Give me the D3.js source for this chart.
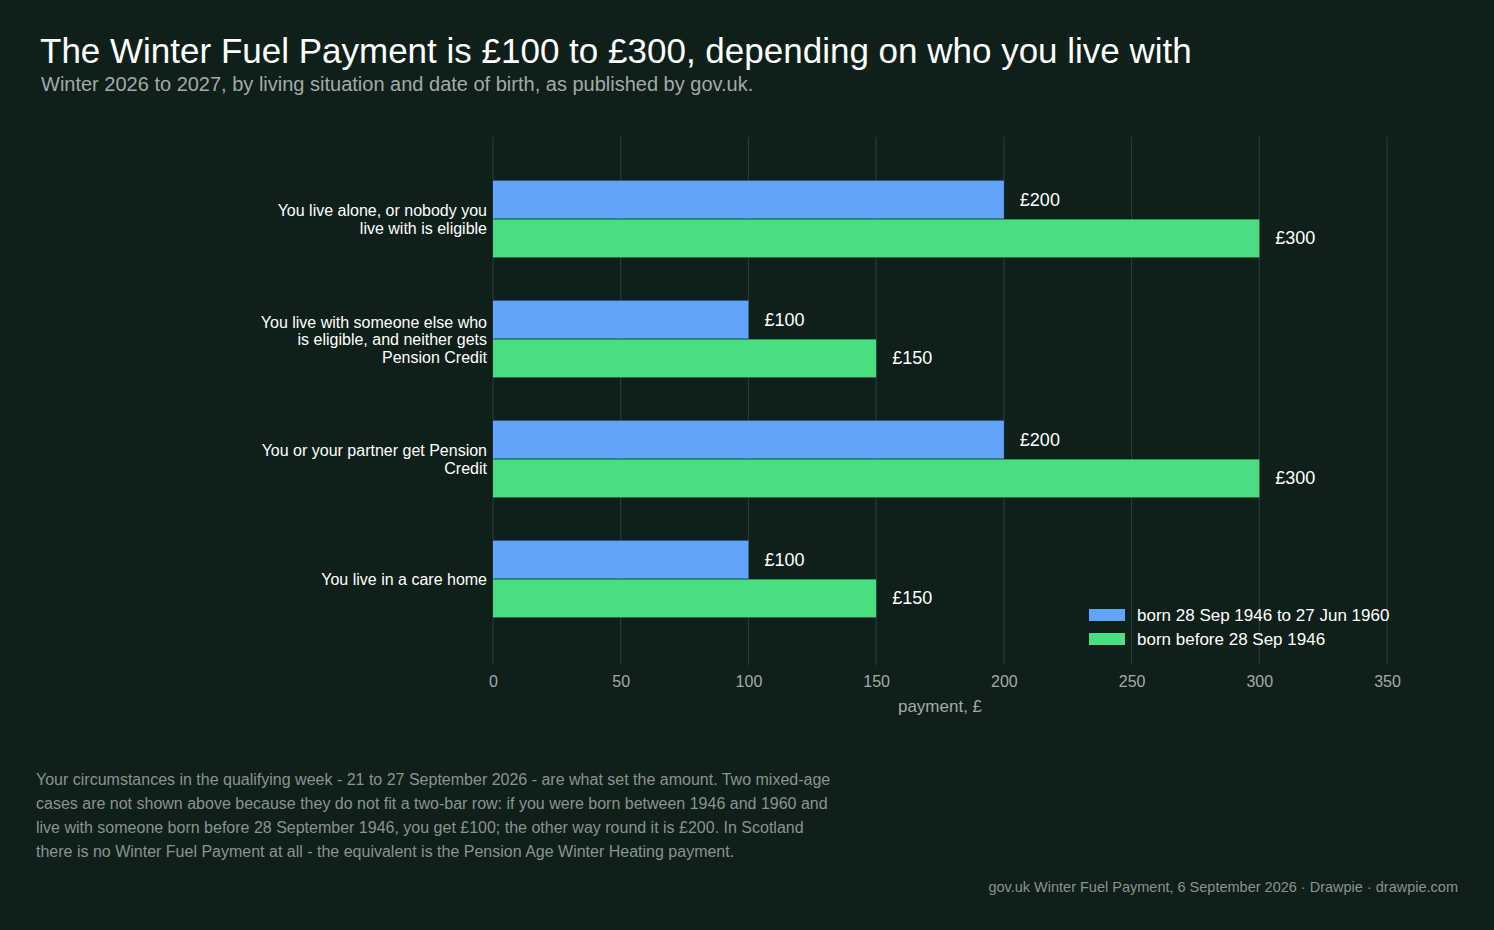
<!DOCTYPE html>
<html><head><meta charset="utf-8">
<script src="https://cdn.jsdelivr.net/npm/d3@7"></script>
<style>body{margin:0;background:#0f1f19;}svg{display:block;font-family:"Liberation Sans",Arial,sans-serif;}</style>
</head><body>
<svg id="c" width="1494" height="930"></svg>
<script>
const categories = [
  ["You live alone, or nobody you","live with is eligible"],
  ["You live with someone else who","is eligible, and neither gets","Pension Credit"],
  ["You or your partner get Pension","Credit"],
  ["You live in a care home"]
];
const seriesNames = ["born 28 Sep 1946 to 27 Jun 1960","born before 28 Sep 1946"];
const seriesBlue = [200,100,200,100];
const seriesGreen = [300,150,300,150];
const xTicks = [0,50,100,150,200,250,300,350];
const colors = ["#60a5fa","#4ade80"];

const svg = d3.select("#c");
svg.append("rect").attr("width",1494).attr("height",930).attr("fill","#0f1f19");
const x = d3.scaleLinear().domain([0,350]).range([493,1387]);
const y = d3.scaleBand().domain(d3.range(categories.length)).range([159,639]).paddingInner(0.36).paddingOuter(0.18);
const sub = d3.scaleBand().domain([0,1]).range([0,y.bandwidth()]).paddingInner(0.02);

svg.append("g").selectAll("line").data(xTicks).join("line")
  .attr("x1",d=>x(d)).attr("x2",d=>x(d)).attr("y1",137).attr("y2",665)
  .attr("stroke","#2c3a35").attr("stroke-width",1.2);

const ax = svg.append("g").attr("transform","translate(0,665)").call(d3.axisBottom(x).tickValues(xTicks).tickSize(0).tickPadding(11));
ax.select(".domain").remove();
ax.selectAll("text").attr("fill","#a3aba8").attr("font-size",16).attr("font-family","Liberation Sans, Arial, sans-serif");
svg.append("text").attr("x",x(175)).attr("y",712).attr("text-anchor","middle").attr("fill","#a3aba8").attr("font-size",17).text("payment, £");

[seriesBlue,seriesGreen].forEach((vals,si)=>{
  const g = svg.append("g");
  g.selectAll("rect").data(vals).join("rect")
    .attr("x",x(0)).attr("y",(d,i)=>y(i)+sub(si)).attr("width",d=>x(d)-x(0)).attr("height",sub.bandwidth()).attr("fill",colors[si]);
  g.selectAll("text").data(vals).join("text")
    .attr("x",d=>x(d)+16).attr("y",(d,i)=>y(i)+sub(si)+sub.bandwidth()/2+6)
    .attr("fill","#ffffff").attr("font-size",18).text(d=>"£"+d);
});

categories.forEach((lines,i)=>{
  const cy = y(i)+y.bandwidth()/2;
  const t = svg.append("text").attr("text-anchor","end").attr("fill","#ffffff").attr("font-size",16);
  const n = lines.length;
  lines.forEach((l,j)=>t.append("tspan").attr("x",487).attr("y",cy+6+(j-(n-1)/2)*17.5).text(l));
});

const lg = svg.append("g");
seriesNames.forEach((s,i)=>{
  lg.append("rect").attr("x",1089).attr("y",609+i*24).attr("width",36).attr("height",12).attr("fill",colors[i]);
  lg.append("text").attr("x",1137).attr("y",621+i*24).attr("fill","#ffffff").attr("font-size",17).text(s);
});

svg.append("text").attr("x",40).attr("y",63).attr("fill","#ffffff").attr("font-size",35).text("The Winter Fuel Payment is £100 to £300, depending on who you live with");
svg.append("text").attr("x",41).attr("y",91).attr("fill","#a3aba8").attr("font-size",20).text("Winter 2026 to 2027, by living situation and date of birth, as published by gov.uk.");

const foot = ["Your circumstances in the qualifying week - 21 to 27 September 2026 - are what set the amount. Two mixed-age",
"cases are not shown above because they do not fit a two-bar row: if you were born between 1946 and 1960 and",
"live with someone born before 28 September 1946, you get £100; the other way round it is £200. In Scotland",
"there is no Winter Fuel Payment at all - the equivalent is the Pension Age Winter Heating payment."];
foot.forEach((l,i)=>svg.append("text").attr("x",36).attr("y",785+i*24).attr("fill","#8a9490").attr("font-size",16).text(l));
svg.append("text").attr("x",1458).attr("y",892).attr("text-anchor","end").attr("fill","#8a9490").attr("font-size",14.5)
  .text("gov.uk Winter Fuel Payment, 6 September 2026  ·  Drawpie · drawpie.com");
</script>
</body></html>
